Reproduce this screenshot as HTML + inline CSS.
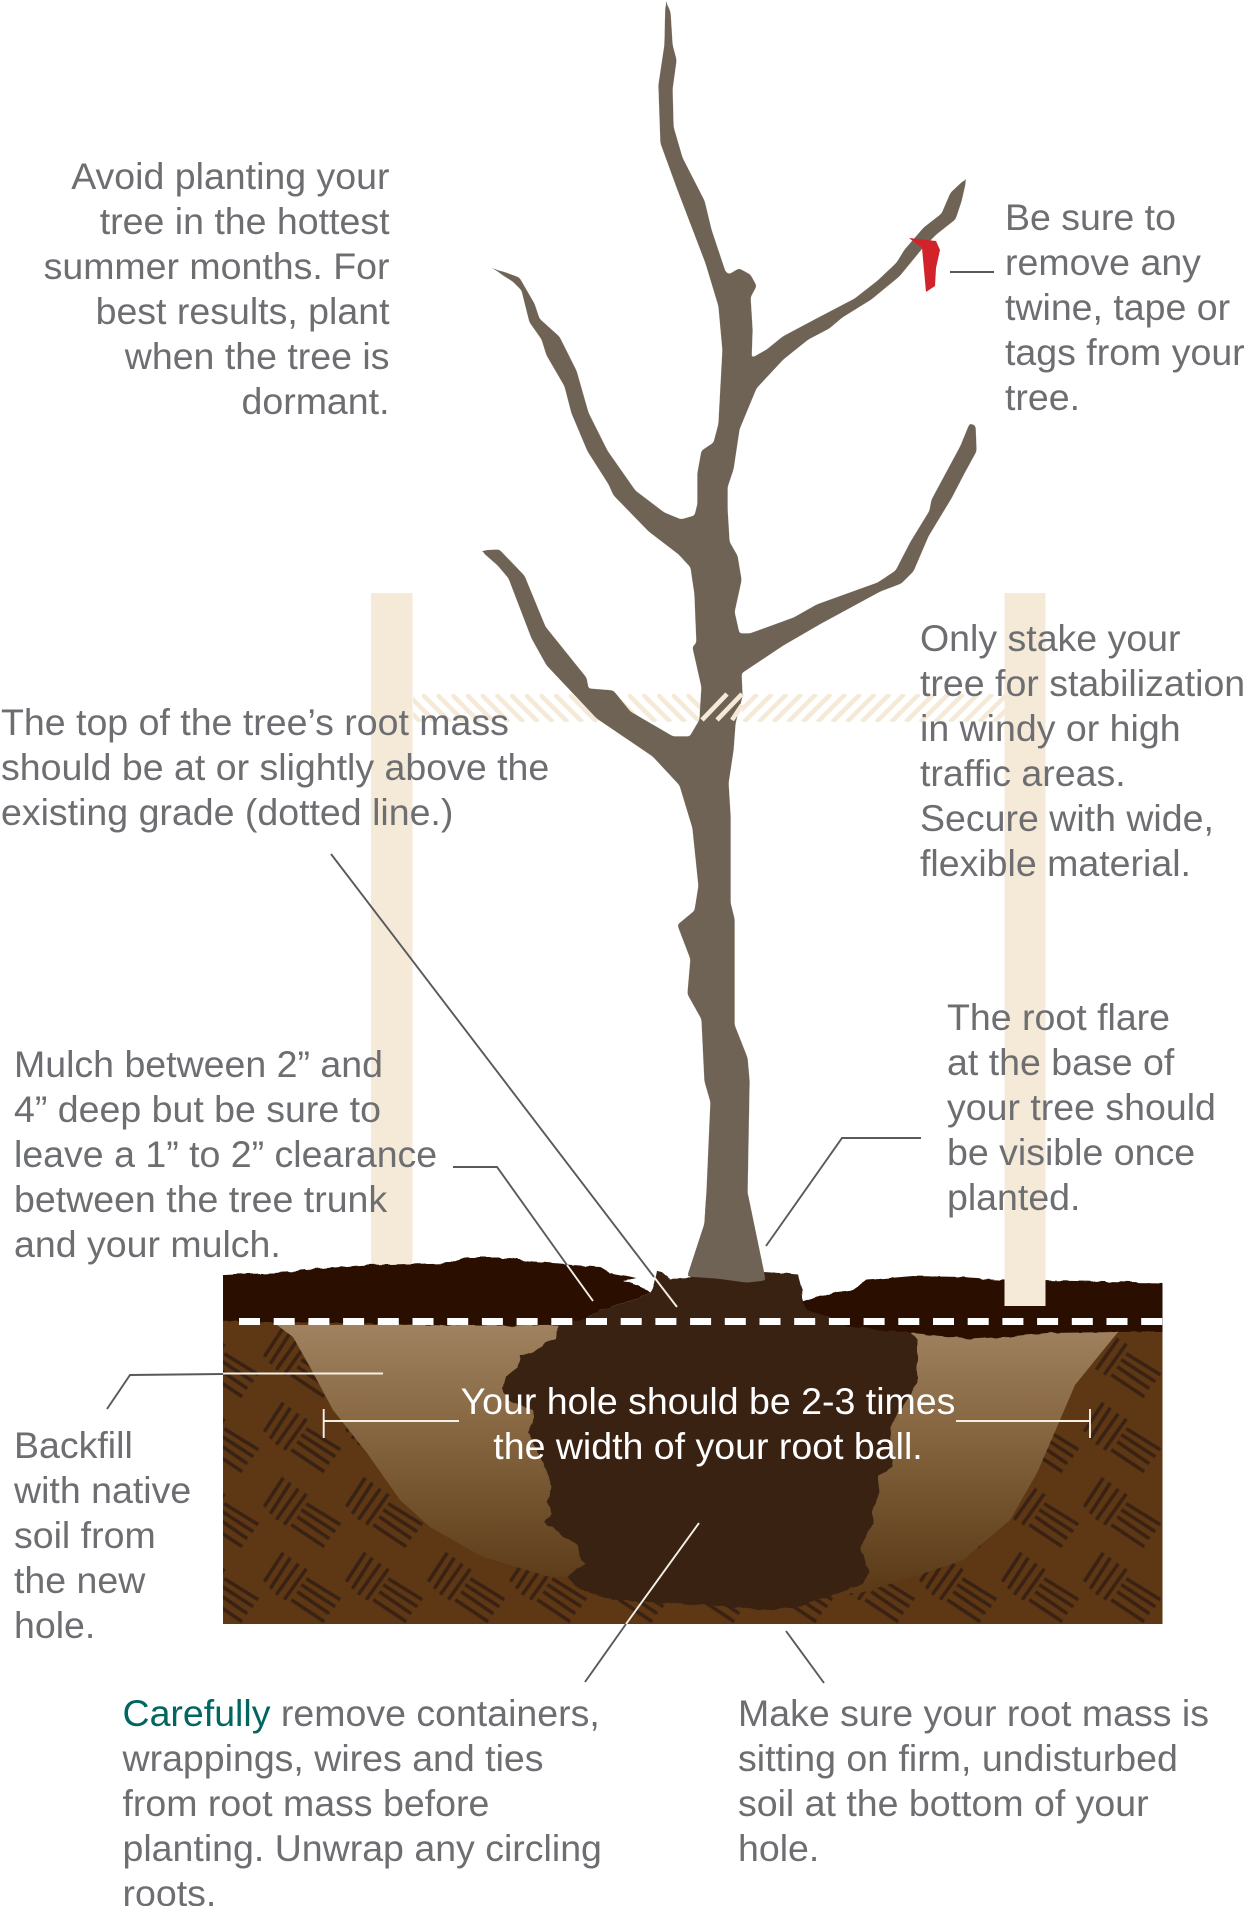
<!DOCTYPE html>
<html><head><meta charset="utf-8"><style>
html,body{margin:0;padding:0;background:#fff}
svg{display:block}
text{font-family:"Liberation Sans",sans-serif;font-size:37.5px;fill:#6d6e71}
.w{fill:#fff}
.e{text-anchor:end}
.m{text-anchor:middle}
.g{stroke:#58595b;stroke-width:1.9;fill:none}
.wl{stroke:#f5f0e6;stroke-width:1.9;fill:none}
</style></head><body>
<svg width="1246" height="1906" viewBox="0 0 1246 1906" xmlns="http://www.w3.org/2000/svg">
<defs>
<pattern id="bw" patternUnits="userSpaceOnUse" x="263.3" y="1476.7" width="82" height="75">
<g stroke="#3a2213" stroke-width="3.6" fill="none">
<path d="M1 30L20 1M7 37L27 6M13 43L35 12M21 48L43 17"/>
<path d="M43 27L77 48M38 33L72 55M34 40L66 62M28 48L61 70"/>
</g>
</pattern>
<linearGradient id="hole" x1="0" y1="1325" x2="0" y2="1590" gradientUnits="userSpaceOnUse">
<stop offset="0" stop-color="#a08260"/><stop offset="0.5" stop-color="#7f5f39"/><stop offset="1" stop-color="#5a3a17"/>
</linearGradient>
<pattern id="hl" patternUnits="userSpaceOnUse" x="422" y="694" width="14.7" height="28">
<path d="M-3 -3L28 28M-17.7 -3L13.3 28" stroke="#f5ead8" stroke-width="4.6" fill="none"/>
</pattern>
<pattern id="hr" patternUnits="userSpaceOnUse" x="700" y="694" width="14.7" height="28">
<path d="M28 0L0 28M13.3 0L-14.7 28M42.7 0L14.7 28" stroke="#f5ead8" stroke-width="4.6" fill="none"/>
</pattern>
<filter id="smooth" filterUnits="userSpaceOnUse" x="0" y="0" width="1246" height="1906" color-interpolation-filters="sRGB">
<feGaussianBlur stdDeviation="1.6"/>
<feComponentTransfer result="s"><feFuncA type="linear" slope="7" intercept="-2"/></feComponentTransfer>
<feMerge><feMergeNode in="SourceGraphic"/><feMergeNode in="s"/></feMerge>
</filter>
<filter id="rough" filterUnits="userSpaceOnUse" x="200" y="1240" width="990" height="400" color-interpolation-filters="sRGB">
<feTurbulence type="fractalNoise" baseFrequency="0.09" numOctaves="2" seed="4" result="n"/>
<feDisplacementMap in="SourceGraphic" in2="n" scale="4" xChannelSelector="R" yChannelSelector="G"/>
</filter>
<clipPath id="box"><rect x="223" y="1240" width="939.5" height="384"/></clipPath>
</defs>

<!-- stakes and grade hatch -->
<rect x="371" y="593" width="41.5" height="690" fill="#f5ead8"/>
<rect x="1004.5" y="593" width="41" height="400" fill="#f5ead8"/>
<rect x="413" y="694" width="288" height="28" fill="url(#hl)"/>
<rect x="742" y="694" width="263" height="28" fill="url(#hr)"/>

<!-- tree -->
<polygon filter="url(#smooth)" fill="#6f6355" points="666,1 670,13 672,45 676,60 672,89 673,127 682,158 704,201 711,230 720,257 725,272 729,275 739,269 750,275 756,286 750,297 752,330 751,359 767,350 783,337 813,321 855,299 878,281 897,263 905,250 924,228 942,214 951,193 966,179 961,201 955,219 936,234 922,248 899,276 871,299 842,317 829,328 808,339 783,359 756,388 739,429 733,469 727,487 727,509 729,542 737,556 741,580 734,612 739,634 750,634 794,618 817,605 878,583 896,571 911,542 930,511 932,500 961,446 970,424 975,426 976,451 964,473 951,498 928,536 913,571 901,583 880,591 821,623 783,645 741,673 742,696 735,723 733,750 728,783 730,816 730,886 730,903 734,919 734,1025 747,1058 749,1081 747,1193 765,1280 747,1282 717,1278 688,1276 705,1224 707,1193 711,1102 705,1081 702,1019 688,994 691,959 678,925 695,911 699,886 693,828 680,785 653,756 597,718 580,700 547,665 532,638 522,612 509,578 498,565 482,551 499,550 524,576 545,627 586,678 588,689 613,691 630,712 673,737 690,737 700,720 702,687 693,647 697,643 695,594 691,567 679,554 649,531 614,495 609,484 588,451 572,413 565,386 547,355 542,339 530,322 522,290 513,281 492,268 519,278 534,304 539,319 559,337 576,371 588,413 607,451 635,491 664,513 681,520 695,516 698,504 698,473 702,451 714,443 719,424 723,350 719,306 706,263 677,187 661,143 659,85 665,45"/>
<path d="M702 720L727 694M717 720L742 694M732 720L742 705" stroke="#f5ead8" stroke-width="4.6" fill="none"/>
<polygon fill="#d2232a" points="909,238 936,241 940,250 936,268 935,286 926,292 922,248"/>

<!-- soil -->
<rect x="223" y="1318" width="939.5" height="306" fill="#5e3714"/>
<rect x="223" y="1318" width="939.5" height="306" fill="url(#bw)"/>
<polygon fill="url(#hole)" points="277,1325 293,1337 310,1367 333,1410 367,1453 400,1500 430,1527 483,1557 550,1577 568,1577 700,1600 860,1593 913,1577 963,1560 1010,1520 1037,1473 1057,1427 1075,1385 1118,1332 910,1332 700,1325"/>
<g clip-path="url(#box)"><g filter="url(#rough)">
<polygon fill="#3a2213" points="558,1325 556,1338 545,1343 533,1352 525,1355 520,1355 517,1367 505,1377 502,1388 508,1400 533,1410 533,1422 528,1433 543,1463 552,1487 547,1500 552,1513 544,1522 562,1535 578,1545 580,1560 585,1563 568,1577 580,1590 617,1600 700,1605 713,1605 763,1610 797,1607 847,1590 863,1583 869,1573 860,1547 873,1523 873,1507 880,1493 878,1475 893,1467 890,1427 917,1383 917,1360 917,1340 910,1332 880,1330 850,1327 827,1317 803,1303 802,1290 798,1275 780,1273 763,1272 680,1278 670,1280 663,1272 657,1272 653,1287 650,1292 633,1300 600,1310 590,1317 573,1322"/>
<polygon fill="#2a0f00" points="200,1276 297,1272 300,1270 367,1265 450,1263 467,1257 500,1257 533,1262 600,1267 610,1273 637,1278 623,1281 643,1288 650,1292 633,1300 600,1310 590,1317 573,1322 558,1325 500,1326 400,1324 267,1322 200,1320"/>
<polygon fill="#2a0f00" points="802,1302 830,1293 853,1290 867,1280 913,1276 963,1277 1005,1280 1077,1281 1190,1283 1190,1331 1117,1332 1047,1333 1003,1337 970,1339 913,1333 880,1330 850,1327 827,1317 807,1310"/>
</g></g>
<rect x="1004.5" y="993" width="41" height="313" fill="#f5ead8"/>
<polygon filter="url(#smooth)" fill="#6f6355" points="707,1193 747,1193 765,1280 747,1282 717,1278 688,1276 705,1224"/>
<line x1="239" y1="1321.5" x2="1162.5" y2="1321.5" stroke="#fff" stroke-width="7" stroke-dasharray="21 13.7"/>

<!-- leaders -->
<line class="g" x1="950" y1="272" x2="994" y2="272"/>
<line class="g" x1="331" y1="854" x2="654" y2="1277"/>
<line class="wl" x1="654" y1="1277" x2="677" y2="1307"/>
<polyline class="g" points="453,1167 497,1167 567,1265"/>
<line class="wl" x1="567" y1="1265" x2="593" y2="1301"/>
<polyline class="g" points="921,1138 842,1138 766,1246"/>
<polyline class="g" points="107,1409 130,1375 223,1374"/>
<line class="wl" x1="223" y1="1373.5" x2="383" y2="1373.5"/>
<path class="wl" d="M323.7 1409V1438M323.7 1421H459"/>
<path class="wl" d="M1090 1409V1438M1090 1421H956"/>
<line class="g" x1="585" y1="1682" x2="626" y2="1624"/>
<line class="wl" x1="626" y1="1624" x2="699" y2="1523"/>
<line class="g" x1="824" y1="1683" x2="786" y2="1631"/>

<!-- text -->
<text class="e" x="389.5" y="189">Avoid planting your</text>
<text class="e" x="389.5" y="234">tree in the hottest</text>
<text class="e" x="389.5" y="279">summer months. For</text>
<text class="e" x="389.5" y="324">best results, plant</text>
<text class="e" x="389.5" y="369">when the tree is</text>
<text class="e" x="389.5" y="414">dormant.</text>

<text x="1005" y="230">Be sure to</text>
<text x="1005" y="275">remove any</text>
<text x="1005" y="320">twine, tape or</text>
<text x="1005" y="365">tags from your</text>
<text x="1005" y="410">tree.</text>

<text x="920" y="651">Only stake your</text>
<text x="920" y="696">tree for stabilization</text>
<text x="920" y="741">in windy or high</text>
<text x="920" y="786">traffic areas.</text>
<text x="920" y="831">Secure with wide,</text>
<text x="920" y="876">flexible material.</text>

<text x="1" y="735">The top of the tree’s root mass</text>
<text x="1" y="780">should be at or slightly above the</text>
<text x="1" y="825">existing grade (dotted line.)</text>

<text x="947" y="1030">The root flare</text>
<text x="947" y="1075">at the base of</text>
<text x="947" y="1120">your tree should</text>
<text x="947" y="1165">be visible once</text>
<text x="947" y="1210">planted.</text>

<text x="14" y="1077">Mulch between 2” and</text>
<text x="14" y="1122">4” deep but be sure to</text>
<text x="14" y="1167">leave a 1” to 2” clearance</text>
<text x="14" y="1212">between the tree trunk</text>
<text x="14" y="1257">and your mulch.</text>

<text class="w m" x="708" y="1414">Your hole should be 2-3 times</text>
<text class="w m" x="708" y="1459">the width of your root ball.</text>

<text x="14" y="1458">Backfill</text>
<text x="14" y="1503">with native</text>
<text x="14" y="1548">soil from</text>
<text x="14" y="1593">the new</text>
<text x="14" y="1638">hole.</text>

<text x="122.5" y="1726"><tspan style="fill:#00665f">Carefully</tspan> remove containers,</text>
<text x="122.5" y="1771">wrappings, wires and ties</text>
<text x="122.5" y="1816">from root mass before</text>
<text x="122.5" y="1861">planting. Unwrap any circling</text>
<text x="122.5" y="1906">roots.</text>

<text x="738" y="1726">Make sure your root mass is</text>
<text x="738" y="1771">sitting on firm, undisturbed</text>
<text x="738" y="1816">soil at the bottom of your</text>
<text x="738" y="1861">hole.</text>
</svg>
</body></html>
